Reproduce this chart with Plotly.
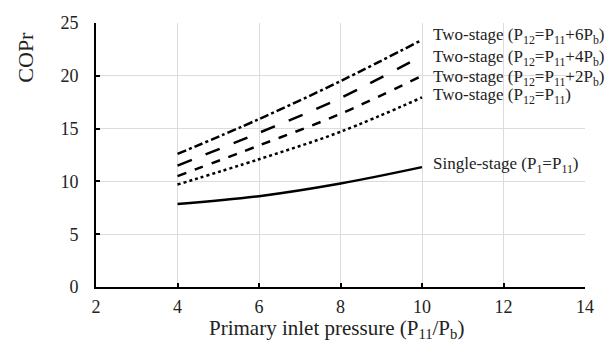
import plotly.graph_objects as go

pressure = [4, 6, 8, 10]
single_stage = [7.85, 8.6, 9.8, 11.35]
two_stage_eq = [9.7, 12.1, 14.7, 17.95]
two_stage_2 = [10.5, 13.4, 16.4, 20.0]
two_stage_4 = [11.5, 14.6, 17.9, 21.9]
two_stage_6 = [12.6, 15.9, 19.5, 23.4]

series = [
    ("Single-stage (P<sub>1</sub>=P<sub>11</sub>)", single_stage, "solid", 2),
    ("Two-stage (P<sub>12</sub>=P<sub>11</sub>)", two_stage_eq, "dot", 1),
    ("Two-stage (P<sub>12</sub>=P<sub>11</sub>+2P<sub>b</sub>)", two_stage_2, "dash", -2),
    ("Two-stage (P<sub>12</sub>=P<sub>11</sub>+4P<sub>b</sub>)", two_stage_4, "longdash", -2),
    ("Two-stage (P<sub>12</sub>=P<sub>11</sub>+6P<sub>b</sub>)", two_stage_6, "dashdot", 4),
]

serif = "Liberation Serif, Times New Roman, serif"
fig = go.Figure()
annotations = []
for name, vals, dash, yshift in series:
    fig.add_trace(go.Scatter(x=pressure, y=vals, mode="lines", name=name,
                             line=dict(color="black", width=2.5, dash=dash, shape="spline"),
                             showlegend=False))
    annotations.append(dict(x=pressure[-1], y=vals[-1], xref="x", yref="y", text=name,
                            showarrow=False, xanchor="left", yanchor="middle", xshift=9,
                            yshift=yshift,
                            font=dict(family=serif, size=17, color="#222")))

annotations.append(dict(text="Primary inlet pressure (P<sub>11</sub>/P<sub>b</sub>)",
                        xref="paper", yref="paper", x=0.227, y=-0.158,
                        xanchor="left", yanchor="middle", showarrow=False,
                        font=dict(family=serif, size=21, color="#222")))
annotations.append(dict(text="COPr", xref="paper", yref="paper", x=-0.145, y=0.869,
                        xanchor="center", yanchor="middle", textangle=-90, showarrow=False,
                        font=dict(family=serif, size=22, color="#222")))

fig.update_layout(
    width=614, height=341,
    margin=dict(l=88, r=37, t=15, b=62),
    paper_bgcolor="white", plot_bgcolor="white",
    annotations=annotations,
    font=dict(family=serif, color="#222"),
    shapes=[dict(type="line", xref="paper", yref="paper", x0=-0.2, x1=1.1, y0=-0.2235, y1=-0.2235,
                 line=dict(color="#d0d0d0", width=1))],
)
fig.update_xaxes(range=[2, 14], tickvals=[2, 4, 6, 8, 10, 12, 14], showgrid=True,
                 gridcolor="#dcdcdc", gridwidth=1, showline=True, linecolor="black", linewidth=2,
                 ticks="inside", ticklen=4, tickwidth=2, tickcolor="black", automargin=False,
                 ticklabelstandoff=2,
                 tickfont=dict(family=serif, size=18, color="#222"), zeroline=False)
fig.update_yaxes(range=[0, 25], tickvals=[0, 5, 10, 15, 20, 25], showgrid=True,
                 gridcolor="#dcdcdc", gridwidth=1, showline=True, linecolor="black", linewidth=2,
                 ticks="inside", ticklen=4, tickwidth=2, tickcolor="black", automargin=False,
                 ticklabelstandoff=12,
                 tickfont=dict(family=serif, size=18, color="#222"), zeroline=False)

fig.write_html("out.html")
